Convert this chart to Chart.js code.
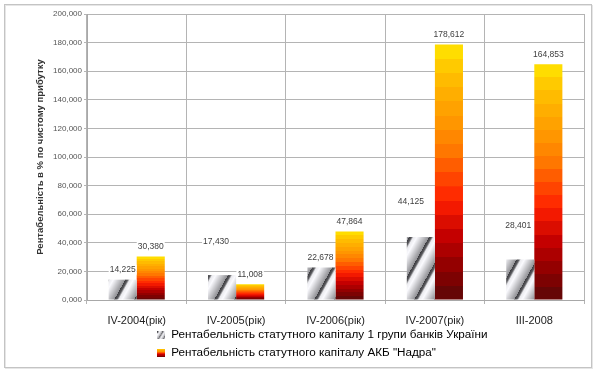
<!DOCTYPE html>
<html><head><meta charset="utf-8">
<script src="https://cdn.jsdelivr.net/npm/chart.js@4"></script>
<style>html,body{margin:0;padding:0;background:#fff}#wrap{width:597px;height:374px;position:relative}</style>
</head><body><div id="wrap"><canvas id="c" width="597" height="374"></canvas></div>
<script>
const categories = ['IV-2004(рік)', 'IV-2005(рік)', 'IV-2006(рік)', 'IV-2007(рік)', 'III-2008'];
const seriesNames = ['Рентабельність статутного капіталу 1 групи банків України', 'Рентабельність статутного капіталу АКБ "Надра"'];
const banksGroup1 = [14.225, 17.430, 22.678, 44.125, 28.401];
const nadra = [30.380, 11.008, 47.864, 178.612, 164.853];
const yTickValues = [0, 20, 40, 60, 80, 100, 120, 140, 160, 180, 200];
const axisTitle = 'Рентабельність в % по чистому прибутку';

const FONT = '"Liberation Sans", Arial, sans-serif';
const fmt = v => v.toFixed(3).replace('.', ',');

// label placement tweaks (dx, lift) per dataset
const labelShift = [
  [[0, 0], [-6, 23], [-1, 0], [-10, 25], [-2, 24]],
  [[0, 0], [0, 0], [0, 0], [0, 0], [0, 0]]
];

function makeStripes(W, H, dark) {
  const c = document.createElement('canvas'); c.width = W; c.height = H;
  const g = c.getContext('2d'); const img = g.createImageData(W, H);
  for (let y = 0; y < H; y++) for (let x = 0; x < W; x++) {
    const t = ((x + y * W / H) % W) / W;
    let v;
    if (t < 0.12) v = dark + (t / 0.12) * 30;
    else if (t < 0.22) v = dark + 30 + ((t - 0.12) / 0.10) * (235 - dark - 30);
    else if (t < 0.40) v = 235 + ((t - 0.22) / 0.18) * 15;
    else v = 250 - ((t - 0.40) / 0.60) * 105;
    const k = (y * W + x) * 4;
    img.data[k] = v; img.data[k + 1] = v; img.data[k + 2] = v + 4; img.data[k + 3] = 255;
  }
  g.putImageData(img, 0, 0);
  return c;
}
const stripeTile = makeStripes(20, 36, 60);
const stripePattern = document.createElement('canvas').getContext('2d').createPattern(stripeTile, 'repeat');

const keys = [[0, [90, 8, 8]], [0.12, [140, 0, 0]], [0.25, [196, 0, 0]], [0.39, [255, 32, 0]], [0.51, [255, 85, 0]],
  [0.59, [255, 122, 0]], [0.71, [255, 154, 0]], [0.79, [255, 170, 0]], [0.86, [255, 187, 0]], [0.94, [255, 208, 0]], [1, [255, 232, 0]]];
function colAt(f) {
  for (let i = 1; i < keys.length; i++) {
    if (f <= keys[i][0]) {
      const a = keys[i - 1], b = keys[i]; const u = (f - a[0]) / (b[0] - a[0]);
      const c = a[1].map((v, j) => Math.round(v + (b[1][j] - v) * u));
      return `rgb(${c[0]},${c[1]},${c[2]})`;
    }
  }
  return 'rgb(255,232,0)';
}
function addBands(grad, n) {
  for (let i = 0; i < n; i++) {
    const col = colAt((i + 0.5) / n);
    grad.addColorStop(i / n, col); grad.addColorStop(Math.min(1, (i + 1) / n - 0.0001), col);
  }
}

function legendStripe() {
  const c = document.createElement('canvas'); c.width = 8; c.height = 8;
  const g = c.getContext('2d');
  g.fillStyle = g.createPattern(makeStripes(5, 8, 70), 'repeat'); g.fillRect(0, 0, 8, 8);
  return c;
}
function legendFire() {
  const c = document.createElement('canvas'); c.width = 8; c.height = 8;
  const g = c.getContext('2d'); const gr = g.createLinearGradient(0, 8, 0, 0); addBands(gr, 6);
  g.fillStyle = gr; g.fillRect(0, 0, 8, 8);
  return c;
}
const legendIcons = [legendStripe(), legendFire()];

const fireColor = (ctx) => {
  const chart = ctx.chart;
  if (!chart.chartArea || ctx.type !== 'data') return '#ff6000';
  const y = chart.scales.y;
  const top = y.getPixelForValue(ctx.raw), bottom = y.getPixelForValue(0);
  const g = chart.ctx.createLinearGradient(0, bottom, 0, top);
  addBands(g, 18);
  return g;
};

const framePlugin = {
  id: 'frame',
  beforeDraw(chart) {
    const c = chart.ctx; c.save();
    c.fillStyle = '#fff'; c.fillRect(0, 0, chart.width, chart.height);
    c.strokeStyle = '#e6e6e6'; c.lineWidth = 1; c.strokeRect(5.5, 5.5, 587, 363);
    c.strokeStyle = '#c4c4c4'; c.strokeRect(4.5, 4.5, 587, 363);
    c.restore();
  },
  afterLayout(chart) {
    const lg = chart.legend;
    if (lg) { const h = lg.height; lg.left = 151.5; lg.top = 323.5; lg.bottom = lg.top + h; }
  }
};

const labelPlugin = {
  id: 'vals',
  afterDatasetsDraw(chart) {
    const c = chart.ctx; c.save();
    c.font = '8.5px ' + FONT; c.textAlign = 'center'; c.textBaseline = 'middle';
    chart.data.datasets.forEach((ds, di) => {
      const meta = chart.getDatasetMeta(di);
      meta.data.forEach((bar, i) => {
        const s = labelShift[di][i];
        const x = bar.x + s[0], y = bar.y - 10 - s[1];
        const t = fmt(ds.data[i]); const w = c.measureText(t).width;
        c.fillStyle = '#fff'; c.fillRect(x - w / 2 - 1, y - 5, w + 2, 10);
        c.fillStyle = '#404040'; c.fillText(t, x, y);
      });
    });
    c.restore();
  }
};

new Chart(document.getElementById('c'), {
  type: 'bar',
  data: {
    labels: categories,
    datasets: [
      { label: seriesNames[0], data: banksGroup1, backgroundColor: stripePattern, borderWidth: 0 },
      { label: seriesNames[1], data: nadra, backgroundColor: fireColor, borderWidth: 0 }
    ]
  },
  plugins: [framePlugin, labelPlugin],
  options: {
    responsive: false, animation: false,
    categoryPercentage: 0.565, barPercentage: 1.0,
    layout: { padding: { left: 31, right: 13, top: 14, bottom: 1 } },
    plugins: {
      tooltip: { enabled: false },
      legend: {
        position: 'bottom', align: 'start',
        labels: {
          color: '#222', font: { family: FONT, size: 11.7 }, padding: 5.8,
          usePointStyle: true, pointStyleWidth: 8, boxHeight: 8,
          generateLabels: (chart) => chart.data.datasets.map((ds, i) => ({
            text: ds.label, pointStyle: legendIcons[i], datasetIndex: i, hidden: false, lineWidth: 0, strokeStyle: 'rgba(0,0,0,0)', fillStyle: '#999'
          }))
        }
      }
    },
    scales: {
      x: {
        grid: { color: '#b4b4b4', offset: true, tickLength: 4, drawTicks: true },
        border: { color: '#a8a8a8' },
        ticks: { color: '#222', font: { family: FONT, size: 11 }, padding: 10, maxRotation: 0 },
        afterFit: (s) => { s.height = 28; }
      },
      y: {
        min: 0, max: 200,
        afterBuildTicks: (s) => { s.ticks = yTickValues.map(v => ({ value: v })); },
        grid: { color: '#b4b4b4', tickLength: 3 },
        border: { color: '#a8a8a8' },
        ticks: { color: '#555', font: { family: FONT, size: 8 }, padding: 2, callback: (v) => fmt(v) },
        title: { display: true, text: axisTitle, color: '#333', font: { family: FONT, size: 9.5, weight: 'bold' }, padding: { top: 4, bottom: 4 } },
        afterFit: (s) => { s.width = 56; }
      }
    }
  }
});
</script></body></html>
